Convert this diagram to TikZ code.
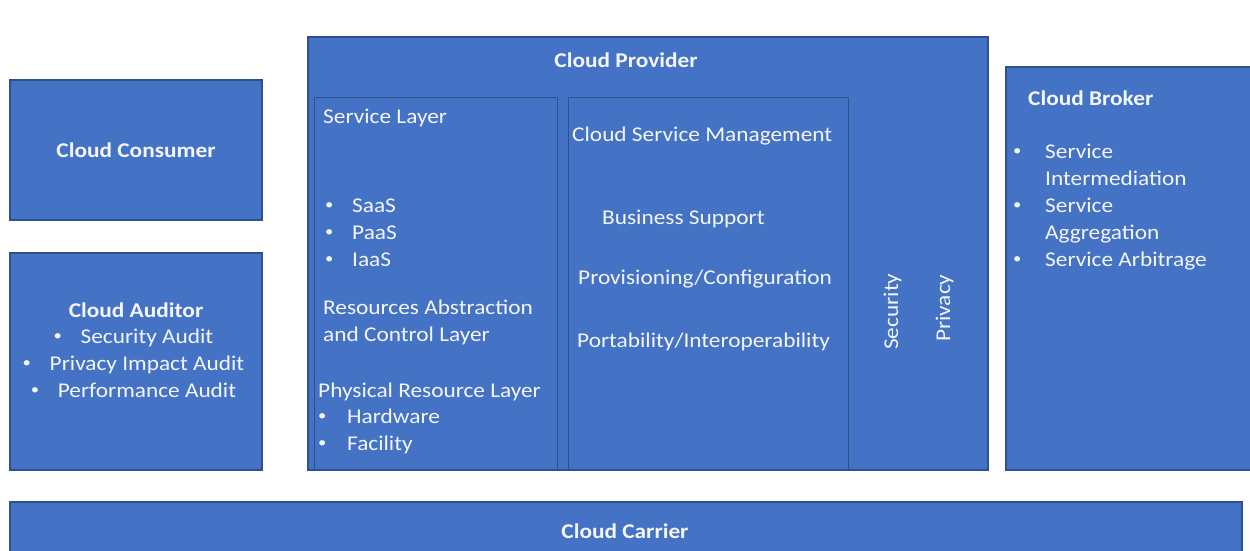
\documentclass[tikz,border=0pt]{standalone}
\usepackage{fontspec}
\setmainfont{Carlito}[FakeStretch=1.11]
\definecolor{boxblue}{HTML}{4472C4}
\definecolor{edgeblue}{HTML}{2F528F}
\definecolor{txt}{HTML}{F4F6FA}
\newcommand{\bul}[1]{\makebox[#1][l]{\hspace{1pt}\raisebox{2.5pt}{\fontsize{15}{15}\selectfont •}}}
\begin{document}
\begin{tikzpicture}[x=1pt,y=-1pt,
  every node/.style={text=txt, font=\fontsize{21}{25}\selectfont, inner sep=0pt},
  panel/.style={fill=boxblue, draw=edgeblue, line width=1.2pt},
  innerbox/.style={draw=edgeblue, line width=1pt},
  lbl/.style={anchor=base west},
  ttl/.style={anchor=base, font=\fontsize{21}{25}\selectfont\bfseries},
  ttlw/.style={anchor=base west, font=\fontsize{21}{25}\selectfont\bfseries}]
\useasboundingbox (0,0) rectangle (1250,551);
\fill[white] (0,0) rectangle (1250,551);
% panels
\draw[panel] (10,80) rectangle (262,220);
\draw[panel] (10,253) rectangle (262,470);
\draw[panel] (308,37) rectangle (988,470);
\draw[panel] (1006,67) rectangle (1252,470);
\draw[panel] (10,502) rectangle (1242,553);
\draw[innerbox] (314,97) rectangle (557,470);
\draw[innerbox] (568,97) rectangle (848,470);
% consumer
\node[ttl] (consumer) at (136,157) {Cloud Consumer};
% auditor
\node[ttl] (auditor) at (136,317) {Cloud Auditor};
\node[anchor=base] (aud1) at (133,343) {\bul{28pt}Security Audit};
\node[anchor=base] (aud2) at (133,370) {\bul{28pt}Privacy Impact Audit};
\node[anchor=base] (aud3) at (133,397) {\bul{28pt}Performance Audit};
% provider
\node[ttl] (provider) at (626,67) {Cloud Provider};
\node[lbl] (svc) at (323,123) {Service Layer};
\node[lbl] (saas) at (324,212) {\bul{28pt}SaaS};
\node[lbl] (paas) at (324,239) {\bul{28pt}PaaS};
\node[lbl] (iaas) at (324,266) {\bul{28pt}IaaS};
\node[lbl] (res1) at (323,314) {Resources Abstraction};
\node[lbl] (res2) at (323,341) {and Control Layer};
\node[lbl] (phys) at (318,397) {Physical Resource Layer};
\node[lbl] (hw) at (317,423) {\bul{30pt}Hardware};
\node[lbl] (fac) at (317,450) {\bul{30pt}Facility};
\node[lbl] (csm) at (572,141) {Cloud Service Management};
\node[lbl] (bus) at (602,224) {Business Support};
\node[lbl] (prov) at (578,284) {Provisioning/Configuration};
\node[lbl] (port) at (577,347) {Portability/Interoperability};
\node[anchor=base west, rotate=90] (sec) at (898,350) {Security};
\node[anchor=base west, rotate=90] (priv) at (950,342) {Privacy};
% broker
\node[ttlw] (broker) at (1028,105) {Cloud Broker};
\node[lbl] (b1) at (1012,158) {\bul{33pt}Service};
\node[lbl] (b1b) at (1045,185) {Intermediation};
\node[lbl] (b2) at (1012,212) {\bul{33pt}Service};
\node[lbl] (b2b) at (1045,239) {Aggregation};
\node[lbl] (b3) at (1012,266) {\bul{33pt}Service Arbitrage};
% carrier
\node[ttl] (carrier) at (625,538) {Cloud Carrier};
\end{tikzpicture}
\end{document}
